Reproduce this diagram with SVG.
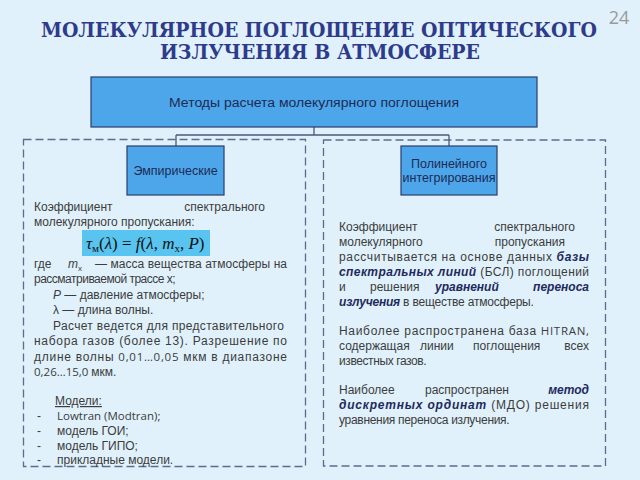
<svg xmlns="http://www.w3.org/2000/svg" width="640" height="480" viewBox="0 0 640 480">
<style>
.title{font-family:"DejaVu Serif","Liberation Serif",serif;font-weight:bold;font-size:17px;fill:#2e3a8a;text-anchor:middle}
.node{fill:#4ea6ea;stroke:#2a3d6a;stroke-width:1.2}
.nt{font-family:"Liberation Sans",Arial,sans-serif;font-size:12.5px;fill:#1c2a55;text-anchor:middle}
.panel{fill:none;stroke:#5d6c8c;stroke-width:1.3;stroke-dasharray:8 4}
.t{font-family:"Liberation Sans",Arial,sans-serif;font-size:12px;fill:#3c3c3c}
.e{text-anchor:end}
.bi{font-weight:bold;font-style:italic;fill:#1f2a5c}
.c{font-family:"Open Sans","Liberation Sans",sans-serif;font-size:11.5px}
.conn{fill:none;stroke:#4a5a7c;stroke-width:1.3}
.f{font-family:"Liberation Serif","Times New Roman",serif;font-size:17px;fill:#111}
</style>
<rect width="640" height="480" fill="#e0f1fb"/>
<g transform="scale(1,1.18)">
<text class="title" x="319" y="31.4" textLength="556" lengthAdjust="spacingAndGlyphs">МОЛЕКУЛЯРНОЕ ПОГЛОЩЕНИЕ ОПТИЧЕСКОГО</text>
<text class="title" x="320" y="50" textLength="320" lengthAdjust="spacingAndGlyphs">ИЗЛУЧЕНИЯ В АТМОСФЕРЕ</text>
</g>
<text x="619" y="24" font-family="Open Sans, Liberation Sans, sans-serif" font-size="18" fill="#9a9a9a" text-anchor="middle">24</text>

<g id="panel-left"><rect class="panel" x="23.5" y="139.5" width="282" height="327"/></g>
<g id="panel-right"><rect class="panel" x="323.5" y="140" width="282" height="326"/></g>

<g id="connectors">
<path class="conn" d="M314 127V135M176 135H449M176 135V146M449 135V146"/>
</g>

<g id="root">
<rect class="node" x="91" y="77" width="446" height="50"/>
<text class="nt" x="314" y="107" font-size="14" textLength="290" lengthAdjust="spacingAndGlyphs">Методы расчета молекулярного поглощения</text>
</g>
<g id="empirical">
<rect class="node" x="127" y="146" width="97" height="49"/>
<text class="nt" x="175.5" y="175">Эмпирические</text>
</g>
<g id="polylinear">
<rect class="node" x="401" y="146" width="96" height="49"/>
<text class="nt" x="449" y="168">Полинейного</text>
<text class="nt" x="449" y="182">интегрирования</text>
</g>

<g id="left-text">
<text class="t" x="34" y="211">Коэффициент</text>
<text class="t e" x="265" y="211">спектрального</text>
<text class="t" x="34" y="226">молекулярного пропускания:</text>
<rect x="82" y="230" width="128" height="26" fill="#58c4ef"/>
<text class="f" x="86" y="249"><tspan font-style="italic">τ</tspan><tspan font-size="11" dy="3">м</tspan><tspan dy="-3">(</tspan><tspan font-style="italic">λ</tspan>) = <tspan font-style="italic">f</tspan>(<tspan font-style="italic">λ</tspan>, <tspan font-style="italic">m</tspan><tspan font-size="11" dy="3">x</tspan><tspan dy="-3">, </tspan><tspan font-style="italic">P</tspan>)</text>
<text class="t" x="34" y="268">где <tspan x="68" font-style="italic">m</tspan><tspan x="78" dy="3" font-size="8">x</tspan></text>
<text class="t" x="95" y="268" textLength="192" lengthAdjust="spacing">— масса вещества атмосферы на</text>
<text class="t" x="34" y="283" letter-spacing="-0.5">рассматриваемой трассе x;</text>
<text class="t" x="53" y="299"><tspan font-style="italic">P</tspan> — давление атмосферы;</text>
<text class="t" x="53" y="314">λ — длина волны.</text>
<text class="t" x="53" y="330" textLength="231" lengthAdjust="spacing">Расчет ведется для представительного</text>
<text class="t" x="34" y="345" textLength="253" lengthAdjust="spacing">набора газов (более 13). Разрешение по</text>
<text class="t" x="34" y="361" textLength="253" lengthAdjust="spacing">длине волны <tspan class="c">0,01…0,05</tspan> мкм в диапазоне</text>
<text class="t c" x="34" y="376">0,26…15,0 <tspan class="t" font-size="11.5">мкм.</tspan></text>
<text class="t" x="55" y="405" text-decoration="underline">Модели:</text>
<text class="t" x="37" y="420">-</text><text class="t c" x="57" y="420">Lowtran (Modtran);</text>
<text class="t" x="37" y="435">-</text><text class="t" x="57" y="435" font-size="12.5">модель ГОИ;</text>
<text class="t" x="37" y="450">-</text><text class="t" x="57" y="450" font-size="12.5">модель ГИПО;</text>
<text class="t" x="37" y="464">-</text><text class="t" x="57" y="464">прикладные модели.</text>
</g>

<g id="right-text">
<text class="t" x="339" y="231">Коэффициент</text>
<text class="t e" x="575" y="231">спектрального</text>
<text class="t" x="339" y="246">молекулярного</text>
<text class="t e" x="565" y="246">пропускания</text>
<text class="t" x="339" y="261" textLength="250" lengthAdjust="spacing">рассчитывается на основе данных <tspan class="bi">базы</tspan></text>
<text class="t" x="339" y="276" textLength="250" lengthAdjust="spacing"><tspan class="bi">спектральных линий</tspan> (БСЛ)  поглощений</text>
<text class="t" x="339" y="291">и</text>
<text class="t" x="370" y="291">решения</text>
<text class="t bi" x="435" y="291">уравнений</text>
<text class="t bi e" x="589" y="291">переноса</text>
<text class="t" x="339" y="306" letter-spacing="-0.2"><tspan class="bi">излучения</tspan> в веществе атмосферы.</text>
<text class="t" x="339" y="335" textLength="250" lengthAdjust="spacing">Наиболее распространена база <tspan class="c">HITRAN,</tspan></text>
<text class="t" x="339" y="350">содержащая</text>
<text class="t" x="420" y="350">линии</text>
<text class="t" x="473" y="350">поглощения</text>
<text class="t e" x="589" y="350">всех</text>
<text class="t" x="339" y="365" letter-spacing="-0.4">известных газов.</text>
<text class="t" x="339" y="394">Наиболее</text>
<text class="t" x="425" y="394">распространен</text>
<text class="t bi e" x="589" y="394">метод</text>
<text class="t" x="339" y="409" textLength="250" lengthAdjust="spacing"><tspan class="bi">дискретных ординат</tspan> (МДО) решения</text>
<text class="t" x="339" y="424" letter-spacing="-0.3">уравнения переноса излучения.</text>
</g>
</svg>
